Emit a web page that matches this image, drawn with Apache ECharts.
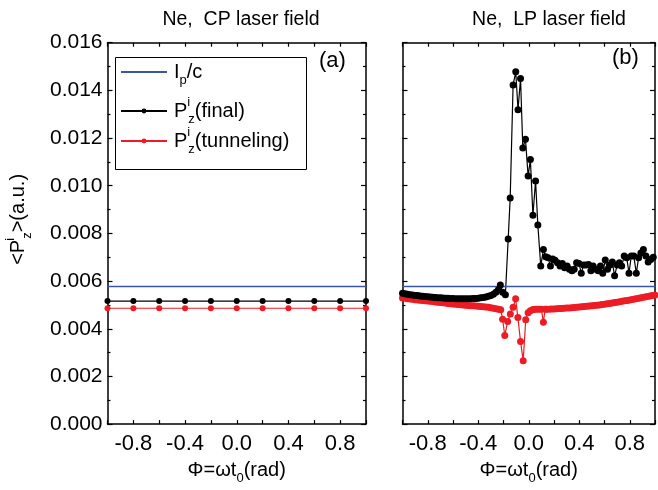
<!DOCTYPE html>
<html>
<head>
<meta charset="utf-8">
<script src="https://cdn.jsdelivr.net/npm/echarts@6/dist/echarts.min.js"></script>
<style>
  html, body { margin: 0; padding: 0; background: #fff; }
  #chart { width: 658px; height: 490px; }
</style>
</head>
<body>
<div id="chart"></div>
<script>
// panel (a): CP field
const phiA = [-1.0, -0.8, -0.6, -0.4, -0.2, 0.0, 0.2, 0.4, 0.6, 0.8, 1.0];
const finalA = [0.00516, 0.00516, 0.00516, 0.00516, 0.00516, 0.00516, 0.00516, 0.00516, 0.00516, 0.00516, 0.00516];
const tunnelA = [0.00486, 0.00486, 0.00486, 0.00486, 0.00486, 0.00486, 0.00486, 0.00486, 0.00486, 0.00486, 0.00486];

// Ip/c level (same in both panels)
const ipcX = [-1.0, 1.0];
const ipcValue = 0.00577;

// panel (b): LP field, dense part on the left
const phiLeftB = [-1.00, -0.98, -0.96, -0.94, -0.92, -0.90, -0.88, -0.86, -0.84, -0.82,
  -0.80, -0.78, -0.76, -0.74, -0.72, -0.70, -0.68, -0.66, -0.64, -0.62,
  -0.60, -0.58, -0.56, -0.54, -0.52, -0.50, -0.48, -0.46, -0.44, -0.42,
  -0.40, -0.38, -0.36, -0.34, -0.32, -0.30, -0.28, -0.26, -0.24];
const finalLeftB = [0.00549, 0.00547, 0.00545, 0.00543, 0.00542, 0.00540, 0.00539, 0.00537, 0.00536, 0.00535,
  0.00534, 0.00533, 0.00532, 0.00531, 0.00530, 0.00530, 0.00529, 0.00528, 0.00528, 0.00527,
  0.00527, 0.00526, 0.00526, 0.00526, 0.00526, 0.00526, 0.00526, 0.00526, 0.00527, 0.00527,
  0.00528, 0.00530, 0.00531, 0.00533, 0.00536, 0.00540, 0.00545, 0.00553, 0.00565];
const tunnelLeftB = [0.00529, 0.00528, 0.00526, 0.00525, 0.00524, 0.00522, 0.00521, 0.00520, 0.00519, 0.00517,
  0.00516, 0.00515, 0.00514, 0.00512, 0.00511, 0.00510, 0.00509, 0.00508, 0.00506, 0.00505,
  0.00504, 0.00503, 0.00502, 0.00501, 0.00500, 0.00499, 0.00498, 0.00497, 0.00496, 0.00495,
  0.00494, 0.00493, 0.00492, 0.00491, 0.00490, 0.00488, 0.00486, 0.00484, 0.00482];

// final momentum: peak region
const phiPeakB = [-0.225, -0.207, -0.185, -0.163, -0.147, -0.124, -0.103, -0.085, -0.065, -0.047,
  -0.026, -0.005, 0.013, 0.033, 0.054, 0.072, 0.095, 0.116];
const finalPeakB = [0.00584, 0.00553, 0.00543, 0.00776, 0.00948, 0.01423, 0.01478, 0.01319, 0.01450, 0.01158,
  0.01195, 0.01041, 0.01110, 0.00876, 0.01020, 0.00835, 0.00663, 0.00732];

// final momentum: tail
const phiTailB = [0.134, 0.153, 0.172, 0.190, 0.208, 0.228, 0.248, 0.266, 0.284, 0.304,
  0.322, 0.342, 0.360, 0.379, 0.398, 0.416, 0.434, 0.454, 0.474, 0.492,
  0.510, 0.530, 0.550, 0.568, 0.586, 0.606, 0.624, 0.644, 0.662, 0.680,
  0.700, 0.718, 0.736, 0.756, 0.776, 0.794, 0.812, 0.832, 0.852, 0.870,
  0.888, 0.908, 0.928, 0.946, 0.966, 0.986];
const finalTailB = [0.00702, 0.00698, 0.00663, 0.00693, 0.00687, 0.00677, 0.00663, 0.00674, 0.00656, 0.00663,
  0.00650, 0.00643, 0.00650, 0.00677, 0.00674, 0.00633, 0.00667, 0.00667, 0.00670, 0.00643,
  0.00663, 0.00650, 0.00643, 0.00663, 0.00633, 0.00688, 0.00650, 0.00667, 0.00680, 0.00622,
  0.00667, 0.00677, 0.00663, 0.00705, 0.00698, 0.00633, 0.00705, 0.00705, 0.00633, 0.00698,
  0.00718, 0.00732, 0.00705, 0.00680, 0.00690, 0.00700];

// tunneling momentum: dip region
const phiDipB = [-0.222, -0.207, -0.190, -0.167, -0.146, -0.124, -0.104, -0.086, -0.065, -0.044,
  -0.024, -0.005, 0.012, 0.030];
const tunnelDipB = [0.00480, 0.00440, 0.00372, 0.00430, 0.00462, 0.00490, 0.00526, 0.00447, 0.00346, 0.00266,
  0.00438, 0.00467, 0.00476, 0.00480];

// tunneling momentum: right part
const phiRightB = [0.04, 0.06, 0.08, 0.10, 0.116, 0.13, 0.14, 0.16, 0.18, 0.20,
  0.22, 0.24, 0.26, 0.28, 0.30, 0.32, 0.34, 0.36, 0.38, 0.40,
  0.42, 0.44, 0.46, 0.48, 0.50, 0.52, 0.54, 0.56, 0.58, 0.60,
  0.62, 0.64, 0.66, 0.68, 0.70, 0.72, 0.74, 0.76, 0.78, 0.80,
  0.82, 0.84, 0.86, 0.88, 0.90, 0.92, 0.94, 0.96, 0.98, 1.00];
const tunnelRightB = [0.00481, 0.00482, 0.00482, 0.00482, 0.00427, 0.00482, 0.00482, 0.00482, 0.00483, 0.00483,
  0.00484, 0.00485, 0.00485, 0.00486, 0.00487, 0.00487, 0.00488, 0.00489, 0.00490, 0.00491,
  0.00492, 0.00493, 0.00494, 0.00495, 0.00496, 0.00498, 0.00499, 0.00500, 0.00502, 0.00503,
  0.00505, 0.00506, 0.00508, 0.00510, 0.00511, 0.00513, 0.00515, 0.00517, 0.00519, 0.00521,
  0.00523, 0.00525, 0.00527, 0.00529, 0.00531, 0.00533, 0.00535, 0.00537, 0.00539, 0.00541];

const FONT = 'Liberation Sans, Arial, sans-serif';
const BLUE = '#3a57a6';
const RED = '#ed1c24';

const zip = (xs, ys) => xs.map((x, i) => [x, ys[i]]);

// 上下标样式
const richText = {
  a: { fontSize: 20, fontFamily: FONT, color: '#000', lineHeight: 30 },
  sup: { fontSize: 13, fontFamily: FONT, color: '#000', lineHeight: 13, verticalAlign: 'top', width: 1 },
  sub: { fontSize: 13, fontFamily: FONT, color: '#000', lineHeight: 13, verticalAlign: 'bottom' }
};

const legendNames = {
  'Ip/c': '{a|I}{sub|p}{a|/c}',
  'final': '{a|P}{sup|i}{sub|z}{a|(final)}',
  'tunneling': '{a|P}{sup|i}{sub|z}{a|(tunneling)}'
};

function xAxisOf(grid, top) {
  return {
    type: 'value', gridIndex: grid, min: -1, max: 1, interval: 0.2,
    position: top ? 'top' : 'bottom',
    axisLine: { show: true, onZero: false, lineStyle: { color: '#000', width: 1.5 } },
    axisTick: { show: true, inside: true, length: 4, lineStyle: { color: '#000', width: 1.2 } },
    axisLabel: {
      show: !top, margin: 9, fontSize: 22, fontFamily: FONT, color: '#000',
      formatter: v => {
        const k = Math.round(v * 10);
        return (k % 4 === 0 && Math.abs(k) < 10) ? (k / 10).toFixed(1) : '';
      }
    },
    splitLine: { show: false },
    name: top ? '' : '{a|Φ=ωt}{sub|0}{a|(rad)}',
    nameLocation: 'middle', nameGap: 24,
    nameTextStyle: { rich: richText }
  };
}

function yAxisOf(grid, right, labels) {
  return {
    type: 'value', gridIndex: grid, min: 0, max: 0.016, interval: 0.002,
    position: right ? 'right' : 'left',
    axisLine: { show: true, onZero: false, lineStyle: { color: '#000', width: 1.5 } },
    axisTick: { show: true, inside: true, length: 5, lineStyle: { color: '#000', width: 1.2 } },
    minorTick: { show: true, splitNumber: 2, length: 3, lineStyle: { color: '#000', width: 1.2 } },
    axisLabel: {
      show: labels, margin: 5, fontSize: 21, fontFamily: FONT, color: '#000',
      formatter: v => v.toFixed(3)
    },
    splitLine: { show: false },
    name: labels ? '{a|<P}{sup|i}{sub|z}{a|>(a.u.)}' : '',
    nameLocation: 'middle', nameGap: 74,
    nameTextStyle: { rich: richText, padding: [0, 0, 0, 28] }
  };
}

function dotSeries(name, color, data, xi, yi, size) {
  return {
    name, type: 'line', xAxisIndex: xi, yAxisIndex: yi, data,
    symbol: 'circle', symbolSize: size, showAllSymbol: true,
    itemStyle: { color }, lineStyle: { color, width: 1.2 },
    emphasis: { disabled: true }
  };
}

function ipcSeries(xi, yi) {
  return {
    name: 'Ip/c', type: 'line', xAxisIndex: xi, yAxisIndex: yi,
    data: ipcX.map(x => [x, ipcValue]),
    symbol: 'none', itemStyle: { color: BLUE }, lineStyle: { color: BLUE, width: 1.5 },
    emphasis: { disabled: true }
  };
}

const finalB = zip(phiLeftB, finalLeftB).concat(zip(phiPeakB, finalPeakB), zip(phiTailB, finalTailB));
const tunnelB = zip(phiLeftB, tunnelLeftB).concat(zip(phiDipB, tunnelDipB), zip(phiRightB, tunnelRightB));

function legendAt(name, top, hideDot) {
  return {
    data: [name], orient: 'vertical', left: 120, top: top,
    itemWidth: 46, itemHeight: 6, padding: 0, selectedMode: false,
    itemStyle: hideDot ? { opacity: 0 } : {},
    formatter: n => legendNames[n],
    textStyle: { rich: richText, padding: [0, 0, 0, 2] }
  };
}

const option = {
  animation: false,
  backgroundColor: '#fff',
  title: [
    { text: 'Ne,  CP laser field', left: 236, top: 5, textAlign: 'center',
      textStyle: { fontSize: 19.5, fontWeight: 'normal', fontFamily: FONT, color: '#000' } },
    { text: 'Ne,  LP laser field', left: 544, top: 5, textAlign: 'center',
      textStyle: { fontSize: 19.5, fontWeight: 'normal', fontFamily: FONT, color: '#000' } }
  ],
  legend: [legendAt('Ip/c', 62, true), legendAt('final', 96, false), legendAt('tunneling', 126, false)],
  grid: [
    { left: 107.5, right: 292, top: 42.7, bottom: 59 },
    { left: 402.5, right: -3, top: 42.7, bottom: 59 }
  ],
  xAxis: [xAxisOf(0, false), xAxisOf(1, false), xAxisOf(0, true), xAxisOf(1, true)],
  yAxis: [yAxisOf(0, false, true), yAxisOf(1, false, false), yAxisOf(0, true, false), yAxisOf(1, true, false)],
  graphic: [
    { type: 'rect', left: 113, top: 55, shape: { width: 191, height: 112 },
      style: { fill: 'none', stroke: '#000', lineWidth: 1 } },
    { type: 'text', left: 319, top: 50,
      style: { text: '(a)', fontSize: 22, fontFamily: FONT, fill: '#000' } },
    { type: 'text', left: 612, top: 47,
      style: { text: '(b)', fontSize: 22, fontFamily: FONT, fill: '#000' } }
  ],
  series: [
    ipcSeries(0, 0),
    dotSeries('final', '#000', zip(phiA, finalA), 0, 0, 6),
    dotSeries('tunneling', RED, zip(phiA, tunnelA), 0, 0, 6),
    dotSeries('tunneling', RED, tunnelB, 1, 1, 7),
    dotSeries('final', '#000', finalB, 1, 1, 7),
    ipcSeries(1, 1)
  ]
};

const chart = echarts.init(document.getElementById('chart'));
chart.setOption(option);
</script>
</body>
</html>
